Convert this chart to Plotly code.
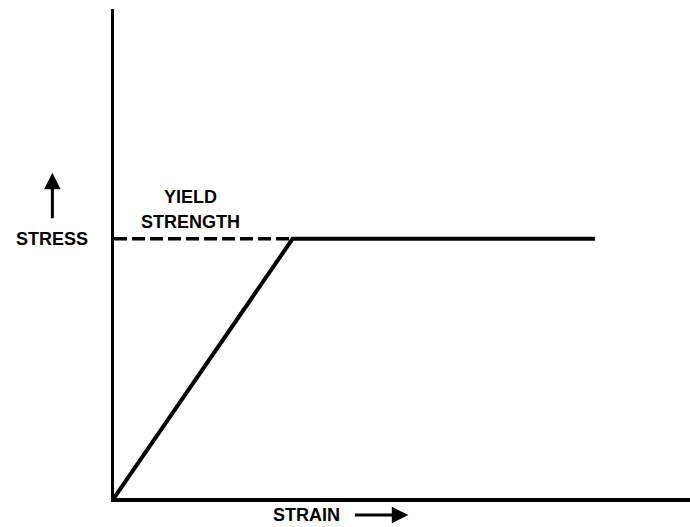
import plotly.graph_objects as go

# Idealised elastic / perfectly plastic stress-strain curve
strain = [0.0, 0.31, 0.835]
stress = [0.0, 0.53, 0.53]
yield_strength = 0.53
yield_strain = 0.31

FONT = dict(family="Liberation Sans, Arial, sans-serif", size=18, color="black", weight="bold")

fig = go.Figure()

# yield strength reference (dashed)
fig.add_trace(go.Scatter(
    x=[0.0, yield_strain], y=[yield_strength, yield_strength],
    mode="lines", line=dict(color="black", width=3.5, dash="13px,5px"),
    hoverinfo="skip", showlegend=False,
))

# stress-strain curve
fig.add_trace(go.Scatter(
    x=strain, y=stress, mode="lines",
    line=dict(color="black", width=4),
    hoverinfo="skip", showlegend=False,
))

annotations = [
    dict(x=0.132, y=0.6155, xref="x", yref="y", text="YIELD", showarrow=False,
         font=FONT, xanchor="center", yanchor="middle"),
    dict(x=0.132, y=0.564, xref="x", yref="y", text="STRENGTH", showarrow=False,
         font=FONT, xanchor="center", yanchor="middle"),
    dict(x=-0.107, y=yield_strength, xref="paper", yref="y", text="STRESS", showarrow=False,
         font=FONT, xanchor="center", yanchor="middle"),
    # upward arrow above STRESS
    dict(x=-0.107, y=0.665, xref="paper", yref="y", text="", showarrow=True,
         ax=0, ay=47, arrowhead=2, arrowsize=1.1, arrowwidth=3, arrowcolor="black"),
    dict(x=0.3345, y=-0.035, xref="paper", yref="paper", text="STRAIN", showarrow=False,
         font=FONT, xanchor="center", yanchor="middle"),
    # rightward arrow after STRAIN
    dict(x=0.511, y=-0.035, xref="paper", yref="paper", text="", showarrow=True,
         ax=-55, ay=0, arrowhead=2, arrowsize=1.1, arrowwidth=3, arrowcolor="black"),
]

fig.update_layout(
    width=690, height=527,
    margin=dict(l=114, r=0, t=9, b=29),
    paper_bgcolor="white", plot_bgcolor="white",
    showlegend=False,
    annotations=annotations,
    xaxis=dict(range=[0, 1], showgrid=False, zeroline=False, showticklabels=False,
               ticks="", showline=True, linecolor="black", linewidth=4),
    yaxis=dict(range=[0, 1], showgrid=False, zeroline=False, showticklabels=False,
               ticks="", showline=True, linecolor="black", linewidth=3),
)

fig.write_html("out.html")
